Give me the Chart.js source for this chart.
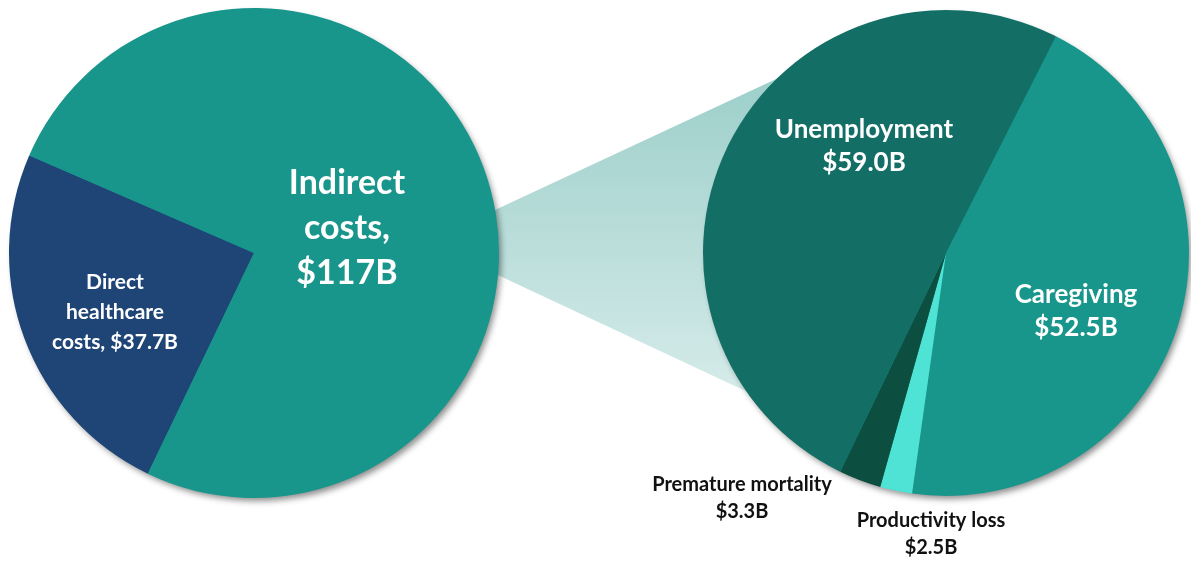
<!DOCTYPE html>
<html>
<head>
<meta charset="utf-8">
<script src="https://cdn.jsdelivr.net/npm/chart.js@4.4.1/dist/chart.umd.min.js"></script>
<style>
    html, body { margin: 0; padding: 0; background: #fff; overflow: hidden; }
    #wrap { position: relative; width: 1191px; height: 563px; }
    #wrap canvas { position: absolute; top: 0; }
    #bridge { left: 0; }
    #leftChart { left: 0; }
    #rightChart { left: 620px; }
</style>
</head>
<body>
<div id="wrap">
    <canvas id="bridge" width="1191" height="563"></canvas>
    <canvas id="leftChart" width="560" height="563"></canvas>
    <canvas id="rightChart" width="571" height="563"></canvas>
</div>
<script>
// overall split
var totalLabels = ['Direct healthcare costs', 'Indirect costs'];
var totalValues = [37.7, 117];
var totalColors = ['#1f4577', '#19968b'];

// breakdown of the indirect costs
var indirectLabels = ['Caregiving', 'Productivity loss', 'Premature mortality', 'Unemployment'];
var indirectValues = [52.5, 2.5, 3.3, 59.0];
var indirectColors = ['#19968b', '#4fe3d6', '#0c4f40', '#136f66'];

var FONT = 'Lato, "Open Sans", sans-serif';

function money(v, d) {
    return '$' + v.toFixed(d) + 'B';
}

// text blocks, placed relative to the pie centre
var leftText = [
    {lines: ['Indirect', 'costs,', money(totalValues[1], 0)], dx: 93, dy: -70, size: 34, lh: 45, color: '#ffffff'},
    {lines: ['Direct', 'healthcare', 'costs, ' + money(totalValues[0], 1)], dx: -139, dy: 29, size: 21, lh: 30, color: '#ffffff'}
];
var rightText = [
    {lines: [indirectLabels[3], money(indirectValues[3], 1)], dx: -82, dy: -123, size: 26, lh: 33, color: '#ffffff'},
    {lines: [indirectLabels[0], money(indirectValues[0], 1)], dx: 130, dy: 42, size: 26, lh: 33, color: '#ffffff'},
    {lines: [indirectLabels[2], money(indirectValues[2], 1)], dx: -204, dy: 232, size: 20, lh: 27, color: '#111111'},
    {lines: [indirectLabels[1], money(indirectValues[1], 1)], dx: -15, dy: 268, size: 20, lh: 27, color: '#111111'}
];

// soft shadow under the whole disc, drawn before the slices
var discShadow = {
    id: 'discShadow',
    beforeDatasetsDraw: function (chart) {
        var arc = chart.getDatasetMeta(0).data[0];
        var ctx = chart.ctx;
        ctx.save();
        ctx.shadowColor = 'rgba(0,0,0,0.45)';
        ctx.shadowBlur = 6;
        ctx.shadowOffsetX = 3;
        ctx.shadowOffsetY = 4;
        ctx.fillStyle = '#19968b';
        ctx.beginPath();
        ctx.arc(arc.x, arc.y, arc.outerRadius - 1, 0, Math.PI * 2);
        ctx.fill();
        ctx.restore();
    }
};

var blockText = {
    id: 'blockText',
    afterDatasetsDraw: function (chart, args, opts) {
        var arc = chart.getDatasetMeta(0).data[0];
        var ctx = chart.ctx;
        ctx.save();
        ctx.textAlign = 'center';
        ctx.textBaseline = 'middle';
        opts.items.forEach(function (t) {
            ctx.font = 'bold ' + t.size + 'px ' + FONT;
            ctx.fillStyle = t.color;
            for (var i = 0; i < t.lines.length; i++) {
                ctx.fillText(t.lines[i], arc.x + t.dx, arc.y + t.dy + i * t.lh);
            }
        });
        ctx.restore();
    }
};

function pieOptions(rotation, padding, items) {
    return {
        responsive: false,
        animation: false,
        rotation: rotation,
        layout: {padding: padding},
        plugins: {
            legend: {display: false},
            tooltip: {enabled: false},
            blockText: {items: items}
        }
    };
}

var leftChart = new Chart(document.getElementById('leftChart'), {
    type: 'pie',
    data: {
        labels: totalLabels,
        datasets: [{data: totalValues, backgroundColor: totalColors, borderWidth: 0}]
    },
    options: pieOptions(205.7, {left: 9, right: 61, top: 8, bottom: 65}, leftText),
    plugins: [discShadow, blockText]
});

var rightChart = new Chart(document.getElementById('rightChart'), {
    type: 'pie',
    data: {
        labels: indirectLabels,
        datasets: [{data: indirectValues, backgroundColor: indirectColors, borderWidth: 0}]
    },
    options: pieOptions(26.9, {left: 83, right: 2, top: 10, bottom: 67}, rightText),
    plugins: [discShadow, blockText]
});

// the light cone joining the indirect slice to the breakdown pie
function drawBridge() {
    var ctx = document.getElementById('bridge').getContext('2d');
    var a = leftChart.getDatasetMeta(0).data[0];
    var b = rightChart.getDatasetMeta(0).data[0];
    var bx = b.x + 620;
    function pt(cx, cy, r, deg) {
        var rad = deg * Math.PI / 180;
        return [cx + r * Math.cos(rad), cy - r * Math.sin(rad)];
    }
    var p1 = pt(a.x, a.y, a.outerRadius - 2, 10);
    var p2 = pt(bx, b.y, b.outerRadius - 2, 132.7);
    var p3 = pt(bx, b.y, b.outerRadius - 2, 215.5);
    var p4 = pt(a.x, a.y, a.outerRadius - 2, -5);
    var g = ctx.createLinearGradient(0, p2[1], 0, p3[1]);
    g.addColorStop(0, '#9dcfca');
    g.addColorStop(1, '#d5ebe9');
    ctx.fillStyle = g;
    ctx.beginPath();
    ctx.moveTo(p1[0], p1[1]);
    ctx.lineTo(p2[0], p2[1]);
    ctx.lineTo(p3[0], p3[1]);
    ctx.lineTo(p4[0], p4[1]);
    ctx.closePath();
    ctx.fill();
}
drawBridge();
</script>
</body>
</html>
